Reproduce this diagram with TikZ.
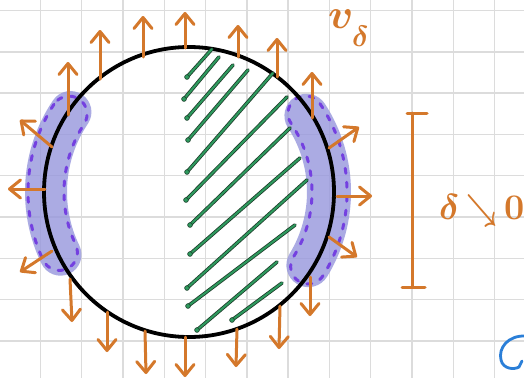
\RequirePackage{fix-cm}
\documentclass[tikz,border=0pt]{standalone}
\usepackage{tikz}
\usetikzlibrary{arrows.meta, calc}
\definecolor{vorange}{HTML}{D4782B}
\definecolor{blobviolet}{RGB}{151,151,221}
\definecolor{dashviolet}{HTML}{7440E0}
\definecolor{hatchgreen}{HTML}{2E9A5E}
\definecolor{hatchedge}{HTML}{1C3D2A}
\definecolor{penblue}{HTML}{2B7FD8}
\definecolor{gridgray}{HTML}{DCDCDC}

\tikzset{
  flow/.style={vorange, line width=3pt, line cap=round, -{Straight Barb[length=11pt,width=18pt,round]}},
  hatchline/.style={draw=hatchedge, double=hatchgreen, double distance=2pt, line width=0.8pt, line cap=round},
  band/.style={blobviolet, opacity=0.8, line width=42pt, line cap=round},
  bandedge/.style={dashviolet, line width=3pt, line cap=round, dash pattern=on 5pt off 9pt},
  handtext/.style={text=vorange, anchor=base west, inner sep=0pt},
}

\begin{document}
\begin{tikzpicture}[x=1pt, y=-1pt]
\useasboundingbox (0,0) rectangle (524,378);
\fill[white] (0,0) rectangle (524,378);

% squared paper
\foreach \gx in {1,...,12} {
  \draw[gridgray, line width=1.4pt] (-1+41.3*\gx,0) -- (-1+41.3*\gx,378);
}
\foreach \gy in {0,...,8} {
  \draw[gridgray, line width=1.4pt] (0,10.5+41.3*\gy) -- (524,10.5+41.3*\gy);
}

\coordinate (C) at (189,192);

% shaded bands on both sides
\draw[band] ($(C)+(-146:143)$) arc[start angle=-146, end angle=-206, radius=143];
\draw[band, line width=44pt] ($(C)+(-33:140)$) arc[start angle=-33, end angle=31.5, radius=140];

% dashed outlines of the bands
\draw[bandedge] ($(C)+(-147:161)$) arc[start angle=-147, end angle=-205, radius=161]
  arc[start angle=-205, end angle=-385, radius=18]
  arc[start angle=-205, end angle=-147, radius=125]
  arc[start angle=-327, end angle=-507, radius=18] -- cycle;
\draw[bandedge] ($(C)+(-34:158)$) arc[start angle=-34, end angle=32, radius=158]
  arc[start angle=32, end angle=212, radius=17.5]
  arc[start angle=32, end angle=-34, radius=123]
  arc[start angle=-214, end angle=-34, radius=17.5] -- cycle;

% the ball
\draw[line width=3.8pt] (C) circle[radius=145pt];

% hatching
\foreach \ax/\ay/\bx/\by in {187/77/212/49, 184/99/219/57, 187/118/233/65, 188/140/248/70,
    187/172/273/73, 186/200/287/97, 190/225/290/128, 190/254/300/158, 187/288/307/180,
    188/306/295/225, 197/330/277/262, 232/320/282/283} {
  \draw[hatchline] (\ax,\ay) -- (\bx,\by);
  \filldraw[fill=hatchgreen, draw=hatchedge, line width=0.6pt] (\ax,\ay) circle[radius=2.4pt];
}

% outward velocity
\foreach \ax/\ay/\bx/\by in {100/79/100/30, 143/57/143/16, 185/48/185/12, 238/57/238/25,
    277/77/277/38, 312/118/312/72, 68/115/68/62, 52/147/20/120, 45/189/8/189,
    52/251/20/272, 70/279/72/322, 107/312/107/352, 145/331/146/374, 185/337/185/377,
    237/329/236/367, 280/306/279/349, 310/277/310/316, 329/237/357/257,
    337/196/372/196, 329/148/359/127} {
  \draw[flow] (\ax,\ay) -- (\bx,\by);
}

\node[handtext, font=\fontsize{42}{46}\selectfont\boldmath] (vdelta) at (328,28)
  {$v_{\lower12pt\hbox{$\scriptstyle\delta$}}$};

% width of the band
\coordinate (bartop) at (412,113);
\coordinate (barbot) at (412,287);
\draw[vorange, line width=3pt, line cap=round] (bartop) -- (barbot);
\draw[vorange, line width=3pt, line cap=round] ($(bartop)+(-5,0)$) -- ($(bartop)+(15,0)$);
\draw[vorange, line width=3pt, line cap=round] ($(barbot)+(-10,0)$) -- ($(barbot)+(13,0)$);
\node[handtext, font=\fontsize{36}{40}\selectfont\boldmath] (limit) at (439,219)
  {$\delta\mkern3mu\scalebox{0.75}[1]{$\searrow$}\mkern3mu0$};

% stray pen stroke
\draw[penblue, line width=2.8pt, line cap=round] (526,336) .. controls (508,335) and (498,348) .. (501,360)
  .. controls (503,369) and (514,370) .. (519,367) -- (522,361);
\end{tikzpicture}
\end{document}
